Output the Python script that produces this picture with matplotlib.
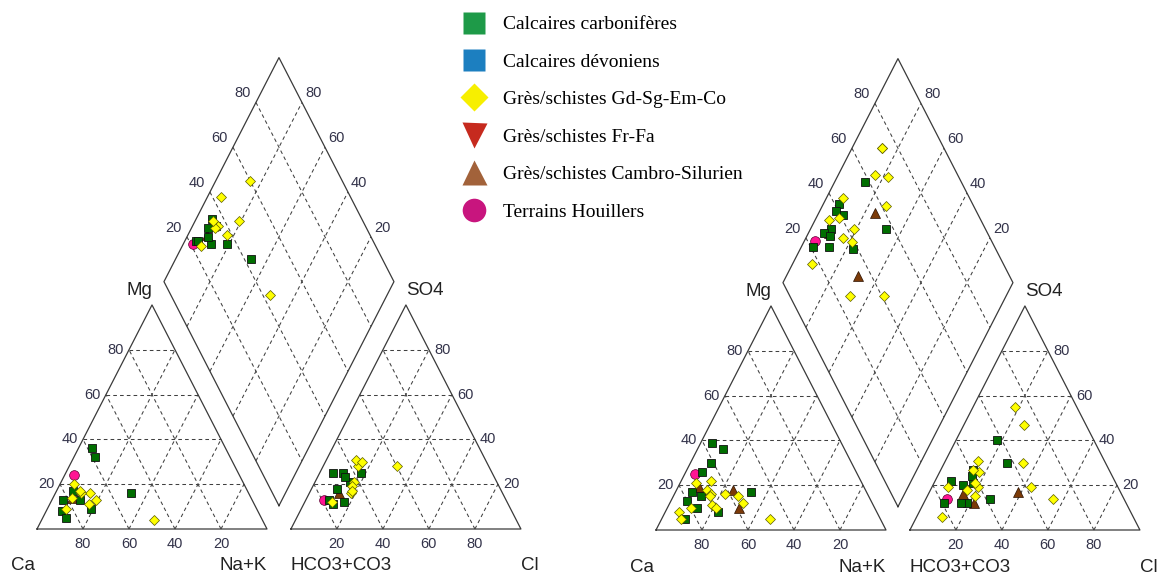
import numpy as np
import matplotlib.pyplot as plt
from matplotlib.lines import Line2D

plt.rcParams["font.family"] = "Liberation Sans"

############## data (% meq) ##############
# cations given as Mg and Na+K (Ca is the rest), anions as SO4 and Cl (HCO3+CO3 is the rest)
# left diagram
gL_mg  = [16, 9, 13, 13, 8, 17, 32, 36, 5]
gL_nak = [33, 19, 5, 12, 7, 7, 9, 6, 10]
gL_so4 = [25, 21, 13, 18, 25, 25, 12, 11, 23]
gL_cl  = [18, 15, 10, 11, 6, 10, 17, 13, 12]

yL_mg  = [4, 16, 20, 13, 11, 16, 17, 9, 14]
yL_nak = [49, 15, 6, 19, 17, 11, 10, 8, 8]
yL_so4 = [28, 28, 31, 30, 21, 19, 16, 12, 17]
yL_cl  = [15, 32, 13, 16, 17, 17, 18, 12, 18]

bL_mg, bL_nak, bL_so4, bL_cl = [14], [8], [16], [13]
pL_mg, pL_nak, pL_so4, pL_cl = [24], [4], [13], [8]

# right diagram
gR_mg  = [17, 10, 8, 39, 13, 36, 30, 26, 5, 15, 17]
gR_nak = [33, 13, 23, 5, 7, 11, 9, 7, 10, 12, 7]
gR_so4 = [30, 40, 21, 12, 14, 27, 20, 22, 12, 12, 24]
gR_cl  = [27, 18, 17, 9, 28, 14, 13, 7, 19, 16, 15]

yR_mg  = [8, 21, 5, 10, 18, 22, 16, 15, 11, 10, 16, 15, 12, 5]
yR_nak = [6, 7, 8.5, 10, 13, 13, 16, 16, 19, 21, 22, 28, 32, 47]
yR_so4 = [18, 31, 6, 19, 55, 47, 30, 15, 26, 21, 14, 19, 19, 27]
yR_cl  = [16, 14, 11, 20, 18, 26, 34, 21, 17, 18, 55, 43, 7, 14]

bR_mg  = [18, 10, 19]
bR_nak = [24.5, 31, 9]
bR_so4 = [17, 12, 16]
bR_cl  = [38.5, 22, 15]

pR_mg, pR_nak, pR_so4, pR_cl = [25], [4.5], [14], [9]

legend_labels = ["Calcaires carbonifères", "Calcaires dévoniens",
                 "Grès/schistes Gd-Sg-Em-Co", "Grès/schistes Fr-Fa",
                 "Grès/schistes Cambro-Silurien", "Terrains Houillers"]

############## geometry ##############
GAP = 10.4
H = np.sqrt(3) / 2
SX, SY = 2.3, 2.587     # px per unit
W, HGT = 1161, 576
line_c = '#3a3a3a'
grid_c = '#404040'
tick_c = '#33334a'


def cation_xy(mg, nak):
    mg, nak = np.asarray(mg, float), np.asarray(nak, float)
    return nak + mg / 2, mg * H


def anion_xy(so4, cl):
    so4, cl = np.asarray(so4, float), np.asarray(cl, float)
    return 100 + GAP + cl + so4 / 2, so4 * H


def diamond_xy(nak, so4, cl):
    nak, so4, cl = np.asarray(nak, float), np.asarray(so4, float), np.asarray(cl, float)
    s = 100 + GAP + cl + so4
    return (nak + s) / 2, H * (s - nak)


def px(dx, dy):
    # offset in pixels -> points
    return (dx * 0.72, dy * 0.72)


def draw_frame(ax):
    # outlines
    tri = np.array([[0, 0], [100, 0], [50, 100 * H], [0, 0]])
    ax.plot(tri[:, 0], tri[:, 1], '-', color=line_c, lw=0.9)
    ax.plot(tri[:, 0] + 100 + GAP, tri[:, 1], '-', color=line_c, lw=0.9)
    B = np.array([100 + GAP / 2, GAP / 2 * np.sqrt(3)])
    L = np.array([50 + GAP / 2, (100 + GAP) * H])
    R = np.array([150 + GAP / 2, (100 + GAP) * H])
    T = np.array([100 + GAP / 2, (100 + GAP) * H + 100 * H])
    dia = np.array([B, L, T, R, B])
    ax.plot(dia[:, 0], dia[:, 1], '-', color=line_c, lw=0.9)

    dash = dict(color=grid_c, lw=0.75, ls=(0, (3.5, 3)))
    for off in [0, 100 + GAP]:
        for v in [20, 40, 60, 80]:
            f = v / 100
            # horizontal
            ax.plot([off + f * 50, off + 100 - f * 50], [f * 100 * H] * 2, **dash)
            # parallel to left edge
            ax.plot([off + v, off + v + (100 - v) / 2], [0, (100 - v) * H], **dash)
            # parallel to right edge
            ax.plot([off + v, off + v / 2], [0, v * H], **dash)
    for f in [0.2, 0.4, 0.6, 0.8]:
        p1, p2 = L + f * (B - L), T + f * (R - T)
        ax.plot([p1[0], p2[0]], [p1[1], p2[1]], **dash)
        p1, p2 = L + f * (T - L), B + f * (R - B)
        ax.plot([p1[0], p2[0]], [p1[1], p2[1]], **dash)

    tk = dict(textcoords='offset points', fontsize=10.5, color=tick_c)
    for v in [20, 40, 60, 80]:
        f = v / 100
        ax.annotate(str(100 - v), (v, 0), xytext=px(0, -15), ha='center', va='center', **tk)
        ax.annotate(str(v), (f * 50, f * 100 * H), xytext=px(-5, 0), ha='right', va='center', **tk)
        ax.annotate(str(v), (100 + GAP + v, 0), xytext=px(0, -15), ha='center', va='center', **tk)
        ax.annotate(str(v), (200 + GAP - f * 50, f * 100 * H), xytext=px(5, 0),
                    ha='left', va='center', **tk)
        p = L + f * (T - L)
        ax.annotate(str(v), p, xytext=px(-5, 9), ha='right', va='center', **tk)
        p = R + f * (T - R)
        ax.annotate(str(v), p, xytext=px(3, 9), ha='left', va='center', **tk)

    lb = dict(textcoords='offset points', fontsize=13.5, color='#222222', va='center')
    ax.annotate("Ca", (0, 0), xytext=px(-2, -37), ha='right', **lb)
    ax.annotate("Na+K", (100, 0), xytext=px(0, -37), ha='right', **lb)
    ax.annotate("HCO3+CO3", (100 + GAP, 0), xytext=px(0, -37), ha='left', **lb)
    ax.annotate("Cl", (200 + GAP, 0), xytext=px(0, -37), ha='left', **lb)
    ax.annotate("Mg", (50, 100 * H), xytext=px(0, 14), ha='right', **lb)
    ax.annotate("SO4", (150 + GAP, 100 * H), xytext=px(0, 14), ha='left', **lb)


def plot_series(ax, mg, nak, so4, cl, **kw):
    for x, y in [cation_xy(mg, nak), anion_xy(so4, cl), diamond_xy(nak, so4, cl)]:
        ax.plot(x, y, ls='none', **kw)


st_pink = dict(marker='o', ms=7, mfc='#ff1493', mec='#5a0030', mew=0.5)
st_brown = dict(marker='^', ms=7.5, mfc='#7b3a08', mec='#2a1000', mew=0.5)
st_green = dict(marker='s', ms=5.8, mfc='#006e00', mec='#101010', mew=0.6)
st_yellow = dict(marker='D', ms=5.2, mfc='#ffff00', mec='#5a5a00', mew=0.5)

fig = plt.figure(figsize=(W / 100, HGT / 100), dpi=100)

for i, (ca_px, base_px) in enumerate([(37, 529), (656, 530)]):
    ax = fig.add_axes([i * 0.5, 0, 0.5, 1])
    x0 = i * W / 2
    ax.set_xlim((x0 - ca_px) / SX, (x0 + W / 2 - ca_px) / SX)
    ax.set_ylim((base_px - HGT) / SY, base_px / SY)
    ax.axis('off')
    draw_frame(ax)
    if i == 0:
        plot_series(ax, pL_mg, pL_nak, pL_so4, pL_cl, **st_pink)
        plot_series(ax, bL_mg, bL_nak, bL_so4, bL_cl, **st_brown)
        plot_series(ax, gL_mg, gL_nak, gL_so4, gL_cl, **st_green)
        plot_series(ax, yL_mg, yL_nak, yL_so4, yL_cl, **st_yellow)
    else:
        plot_series(ax, pR_mg, pR_nak, pR_so4, pR_cl, **st_pink)
        plot_series(ax, bR_mg, bR_nak, bR_so4, bR_cl, **st_brown)
        plot_series(ax, gR_mg, gR_nak, gR_so4, gR_cl, **st_green)
        plot_series(ax, yR_mg, yR_nak, yR_so4, yR_cl, **st_yellow)

############## legend ##############
handles = [Line2D([], [], ls='none', marker='s', ms=16, mfc='#1e9a48', mec='none'),
           Line2D([], [], ls='none', marker='s', ms=16, mfc='#1c7fc0', mec='none'),
           Line2D([], [], ls='none', marker='D', ms=14, mfc='#f7ef00', mec='none'),
           Line2D([], [], ls='none', marker='v', ms=18, mfc='#c62a1e', mec='none'),
           Line2D([], [], ls='none', marker='^', ms=18, mfc='#a2623a', mec='none'),
           Line2D([], [], ls='none', marker='o', ms=17, mfc='#c8157e', mec='none')]
fig.legend(handles, legend_labels, loc='upper left', bbox_to_anchor=(453 / W, 1 - 6 / HGT),
           frameon=False, prop={'family': 'Liberation Serif', 'size': 14},
           handlelength=1.2, handletextpad=0.88, labelspacing=1.02, borderpad=0)

fig.savefig("out.png", dpi=100)
